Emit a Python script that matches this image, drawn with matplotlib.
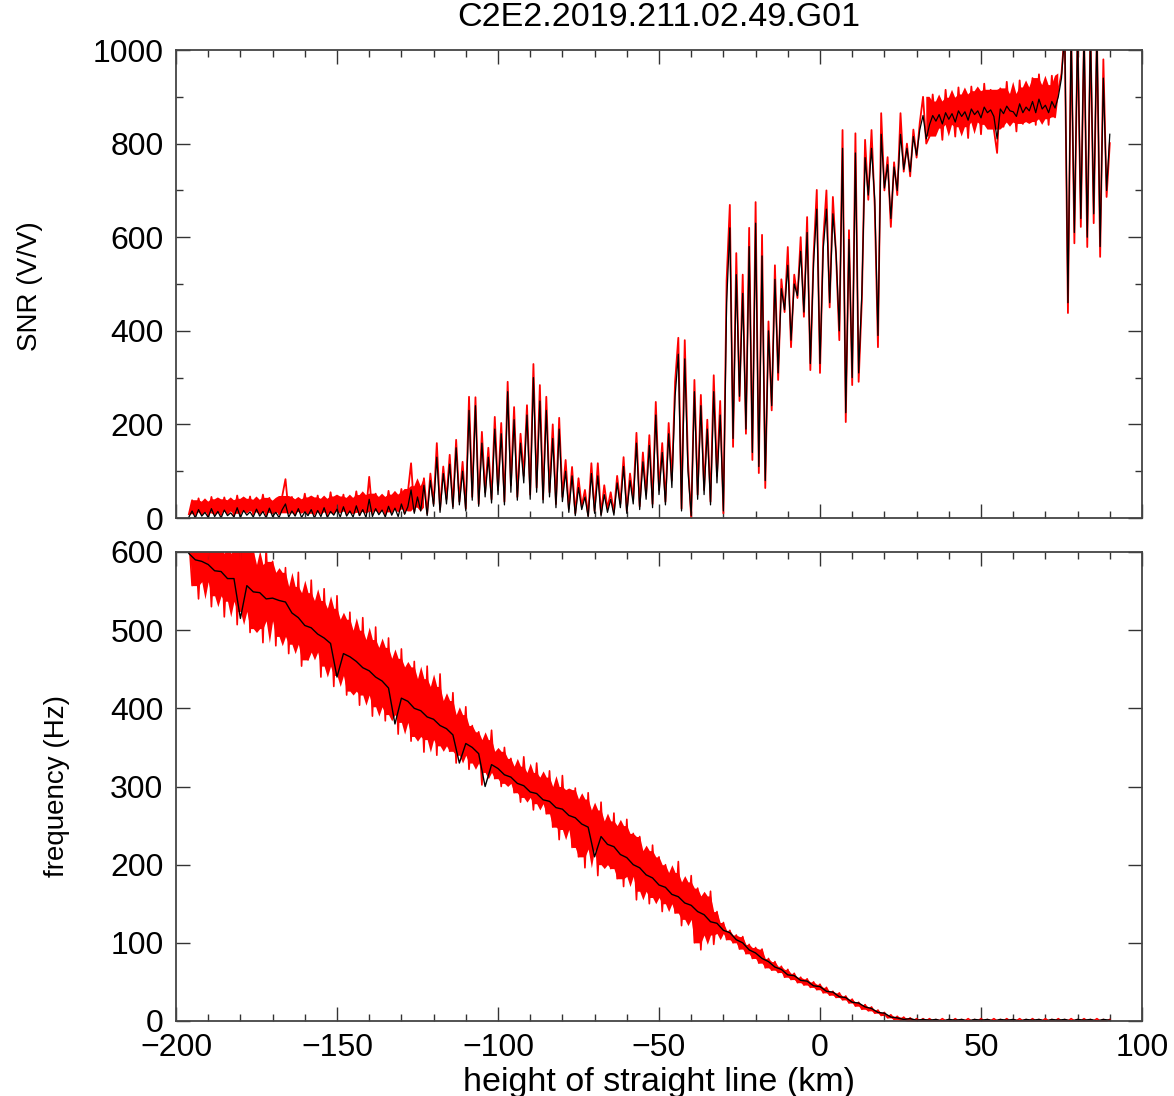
import numpy as np
import matplotlib.pyplot as plt
from matplotlib.ticker import MultipleLocator
from numpy.lib.stride_tricks import sliding_window_view

plt.rcParams['font.family'] = ['Liberation Sans', 'DejaVu Sans']

title = 'C2E2.2019.211.02.49.G01'

# sample positions along the straight line (km)
height_km = np.arange(-196, 91)          # 1 km samples
height_km_2 = np.arange(-196, 91, 2)     # 2 km samples

# SNR (V/V), red trace, one value per km
snr_red = [
    8, 38, 5, 42, 12, 35, 3, 45, 10, 40,
    6, 44, 14, 38, 4, 48, 9, 41, 15, 46,
    7, 39, 12, 50, 5, 43, 11, 37, 8, 47,
    83, 10, 45, 6, 40, 13, 52, 9, 44, 7,
    48, 12, 41, 5, 55, 10, 46, 14, 50, 8,
    43, 11, 57, 6, 49, 13, 88, 9, 52, 15,
    45, 7, 58, 12, 50, 18, 62, 10, 55, 117,
    14, 68, 22, 85, 9, 95, 30, 160, 18, 110,
    40, 135, 25, 167, 35, 120, 20, 259, 45, 258,
    30, 184, 55, 150, 40, 216, 60, 203, 35, 291,
    70, 237, 45, 180, 90, 241, 50, 329, 65, 284,
    40, 259, 55, 200, 30, 214, 45, 124, 20, 109,
    10, 85, 25, 60, 5, 117, 15, 117, 8, 70,
    20, 55, 12, 90, 30, 130, 15, 95, 40, 182,
    25, 140, 50, 177, 30, 248, 60, 160, 35, 203,
    80, 291, 385, 20, 380, 120, 0, 295, 50, 263,
    60, 210, 35, 305, 90, 250, 10, 508, 669, 152,
    566, 250, 520, 180, 620, 124, 675, 96, 605, 64,
    420, 230, 540, 295, 510, 440, 579, 365, 520, 470,
    600, 430, 643, 316, 560, 701, 310, 594, 700, 450,
    686, 560, 380, 829, 205, 615, 284, 822, 291, 466,
    808, 680, 829, 665, 365, 865, 700, 771, 622, 760,
    690, 865, 740, 800, 730, 830, 770, 845, 900, 800,
    815, 905, 832, 890, 808, 915, 840, 898, 815, 920,
    835, 905, 812, 922, 845, 912, 820, 928, 840, 915,
    830, 780, 918, 836, 932, 845, 906, 826, 935, 842,
    920, 846, 940, 840, 948, 852, 925, 840, 945, 856,
    915, 950, 1040, 438, 1040, 587, 1040, 622, 1040, 579,
    1040, 630, 1040, 558, 980, 686, 801,
]

# SNR (V/V), black trace, one value per km
snr_black = [
    2, 15, 0, 18, 4, 12, 1, 20, 3, 14,
    0, 17, 5, 11, 2, 22, 1, 16, 6, 13,
    2, 19, 4, 14, 0, 21, 3, 12, 1, 18,
    30, 2, 15, 4, 20, 1, 13, 5, 18, 0,
    16, 3, 22, 1, 14, 6, 19, 2, 24, 4,
    15, 2, 26, 5, 18, 1, 40, 3, 20, 7,
    17, 2, 25, 6, 21, 3, 30, 8, 24, 60,
    10, 45, 15, 70, 5, 80, 25, 130, 12, 95,
    30, 115, 20, 150, 28, 100, 15, 230, 38, 240,
    25, 160, 45, 130, 32, 190, 50, 180, 28, 270,
    55, 210, 38, 160, 75, 220, 40, 300, 55, 250,
    32, 230, 45, 170, 22, 190, 35, 100, 12, 90,
    5, 65, 18, 45, 2, 95, 10, 90, 4, 50,
    12, 40, 6, 75, 22, 110, 10, 80, 30, 160,
    18, 120, 40, 155, 22, 220, 50, 140, 28, 180,
    65, 260, 350, 15, 340, 100, 5, 270, 40, 240,
    50, 190, 28, 270, 75, 220, 15, 460, 620, 170,
    520, 260, 480, 190, 580, 140, 630, 110, 560, 80,
    400, 240, 510, 310, 490, 445, 540, 380, 500, 475,
    570, 440, 610, 330, 545, 660, 330, 575, 660, 460,
    650, 565, 400, 790, 225, 595, 300, 780, 310, 480,
    770, 690, 790, 680, 390, 820, 705, 755, 640, 750,
    700, 820, 745, 790, 740, 815, 775, 830, 860, 810,
    840, 860, 848, 862, 842, 866, 852, 864, 846, 870,
    858, 868, 850, 874, 862, 870, 855, 878, 866, 872,
    858, 810, 874, 864, 880, 870, 868, 858, 885, 866,
    878, 870, 890, 866, 895, 874, 882, 866, 890, 876,
    900, 940, 1040, 460, 1040, 610, 1040, 640, 1040, 600,
    1040, 650, 1040, 580, 940, 700, 820,
]

# frequency (Hz), red trace, one value per km
freq_red = [
    618, 557, 612, 540, 620, 562, 614, 530, 608, 544,
    616, 517, 598, 537, 620, 507, 606, 524, 614, 497,
    602, 502, 584, 484, 606, 512, 588, 480, 574, 492,
    580, 470, 556, 482, 574, 454, 548, 462, 564, 472,
    538, 440, 553, 454, 528, 428, 544, 442, 514, 417,
    523, 422, 500, 404, 516, 417, 488, 390, 504, 402,
    478, 384, 490, 392, 464, 367, 476, 382, 453, 358,
    460, 364, 438, 344, 454, 360, 428, 340, 444, 352,
    410, 345, 420, 330, 392, 340, 402, 322, 378, 330,
    370, 302, 360, 318, 372, 310, 345, 300, 350, 304,
    336, 292, 326, 280, 338, 286, 318, 270, 330, 278,
    312, 265, 320, 248, 300, 232, 314, 245, 296, 222,
    298, 210, 284, 196, 292, 220, 270, 186, 280, 200,
    256, 195, 266, 182, 250, 172, 258, 185, 240, 155,
    236, 166, 218, 150, 225, 158, 210, 140, 200, 150,
    190, 138, 204, 122, 178, 130, 186, 100, 170, 91,
    160, 110, 166, 98, 140, 112, 126, 104, 116, 100,
    110, 92, 108, 86, 98, 80, 94, 74, 92, 68,
    80, 65, 76, 62, 70, 56, 66, 53, 61, 49,
    56, 46, 54, 43, 50, 40, 47, 36, 43, 33,
    38, 30, 36, 27, 32, 23, 28, 19, 24, 15,
    21, 13, 18, 10, 14, 7, 11, 4, 8, 2,
    6, 1, 5, 0, 4, 0, 3, 0, 3, 0,
    3, 0, 2, 0, 3, 0, 2, 0, 3, 0,
    2, 0, 3, 0, 2, 0, 3, 0, 2, 0,
    3, 0, 2, 0, 3, 0, 2, 0, 3, 0,
    2, 0, 3, 0, 2, 0, 3, 0, 2, 0,
    3, 0, 2, 0, 3, 0, 2, 0, 3, 0,
    2, 0, 3, 0, 2, 0, 2,
]

# frequency (Hz), black trace, one value per 2 km
freq_black = [
    598, 590, 588, 584, 576, 575, 566, 566, 515, 557,
    549, 548, 540, 541, 538, 536, 522, 516, 506, 503,
    495, 490, 483, 440, 470, 466, 460, 452, 448, 440,
    435, 426, 380, 413, 409, 400, 397, 389, 386, 378,
    374, 366, 330, 355, 350, 342, 300, 328, 323, 315,
    312, 304, 301, 293, 291, 283, 281, 273, 271, 263,
    260, 252, 248, 210, 236, 226, 223, 213, 209, 200,
    196, 187, 183, 174, 171, 162, 159, 151, 148, 140,
    136, 127, 125, 116, 113, 104, 100, 91, 87, 80,
    76, 69, 66, 59, 58, 52, 51, 45, 44, 38,
    37, 31, 30, 24, 23, 18, 16, 11, 10, 5,
    4, 2, 3, 1, 2, 1, 2, 0, 2, 1,
    2, 0, 2, 1, 2, 0, 2, 1, 2, 0,
    2, 1, 2, 0, 2, 1, 2, 0, 2, 1,
    2, 0, 2, 1,
]


def core_band(y):
    # inner band of the noisy trace: 2nd lowest / 2nd highest in a 5-sample window
    win = np.sort(sliding_window_view(np.pad(np.asarray(y, float), 2, mode='edge'), 5), axis=1)
    return win[:, 1], win[:, -2]


W, H = 1174, 1096
fig = plt.figure(figsize=(W / 100, H / 100), dpi=100)
ax1 = fig.add_axes([176 / W, 1 - 518 / H, 966 / W, 468 / H])
ax2 = fig.add_axes([176 / W, 1 - 1021 / H, 966 / W, 469 / H])

red = '#ff0000'

lo, hi = core_band(snr_red)
dense = (height_km <= -123) | ((height_km >= 33) & (height_km <= 74))
ax1.fill_between(height_km, lo, hi, where=dense, color=red, lw=0)
ax1.plot(height_km, snr_red, color=red, lw=1.3)
ax1.plot(height_km, snr_black, color='black', lw=0.9)

lo, hi = core_band(freq_red)
ax2.fill_between(height_km, lo, hi, color=red, lw=0)
ax2.plot(height_km, freq_red, color=red, lw=1.2)
ax2.plot(height_km_2, freq_black, color='black', lw=1.0)

ax1.set_ylim(0, 1000)
ax2.set_ylim(0, 600)
ax1.yaxis.set_major_locator(MultipleLocator(200))
ax1.yaxis.set_minor_locator(MultipleLocator(100))
ax2.yaxis.set_major_locator(MultipleLocator(100))

for ax in (ax1, ax2):
    ax.set_xlim(-200, 100)
    ax.xaxis.set_major_locator(MultipleLocator(50))
    ax.xaxis.set_minor_locator(MultipleLocator(10))
    ax.tick_params(which='both', direction='in', top=True, right=True,
                   width=1.0, color='#333333', labelsize=23)
    ax.tick_params(which='major', length=10, pad=9)
    ax.tick_params(which='minor', length=5)
    for s in ax.spines.values():
        s.set_color('#444444')
        s.set_linewidth(1.3)

ax1.tick_params(labelbottom=False)
ax2.tick_params(axis='x', which='major', pad=9)
ax2.set_xticks([-200, -150, -100, -50, 0, 50, 100])
ax2.set_xticklabels(['\u2212200', '\u2212150', '\u2212100', '\u221250', '0', '50', '100'])

fig.text(659 / W, 1 - 18 / H, title, ha='center', va='center', fontsize=24.5)
fig.text(659 / W, 1 - 1082 / H, 'height of straight line (km)', ha='center', va='center', fontsize=24.5)
fig.text(30 / W, 1 - 286 / H, 'SNR (V/V)', rotation=90, ha='center', va='center', fontsize=20)
fig.text(57 / W, 1 - 786 / H, 'frequency (Hz)', rotation=90, ha='center', va='center', fontsize=20)

plt.savefig('out.png', dpi=100)
